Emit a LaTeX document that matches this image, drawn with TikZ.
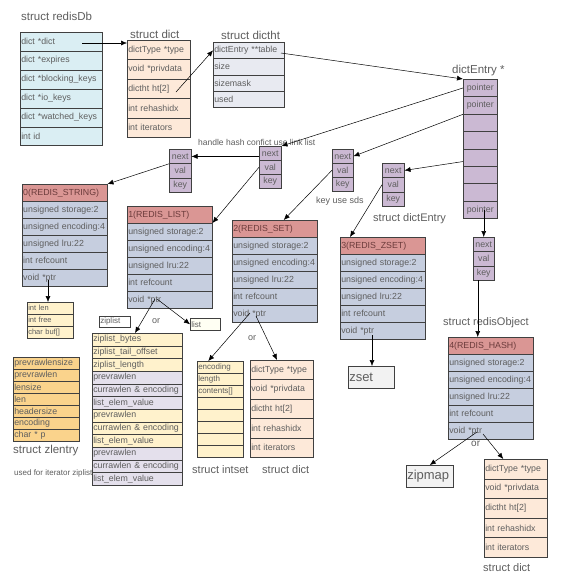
\documentclass[tikz,border=0pt]{standalone}
\usepackage{fontspec}
\setmainfont{Liberation Sans}
\usetikzlibrary{arrows.meta,calc}
\definecolor{txt}{HTML}{5E5E5E}
\definecolor{bord}{HTML}{404040}
\definecolor{dbc}{HTML}{DAEEF3}
\definecolor{dictc}{HTML}{FDE9D9}
\definecolor{htc}{HTML}{E8EAF1}
\definecolor{dec}{HTML}{CBB9D3}
\definecolor{hdr}{HTML}{DA9694}
\definecolor{hdrtxt}{HTML}{6B3B3B}
\definecolor{objc}{HTML}{C6CEDF}
\definecolor{yel}{HTML}{FFF2CC}
\definecolor{lav}{HTML}{E4E0EC}
\definecolor{zlec}{HTML}{FAD38C}
\definecolor{grayc}{HTML}{F2F2F2}
\definecolor{cream}{HTML}{FFFFF3}
\tikzset{
  cell/.style={draw=bord, line width=0.5pt, anchor=north west, inner xsep=1pt, inner ysep=0pt,
    text=txt, font=\fontsize{8.8}{9}\selectfont, align=left},
  ttl/.style={anchor=west, inner sep=0pt, text=txt, font=\fontsize{11.5}{12}\selectfont},
  note/.style={anchor=west, inner sep=0pt, text=txt, font=\fontsize{8.5}{9}\selectfont},
  arr/.style={draw=black, line width=0.5pt, -{Latex[length=6pt,width=5pt]}},
  plainbox/.style={draw=bord, line width=0.5pt, anchor=north west, inner xsep=1pt, inner ysep=0pt,
    text=txt, align=left}
}
\newcommand\stackcells[7]{%
  \pgfmathsetmacro\stw{#4-2}%
  \foreach \t [count=\i] in {#7}{%
    \node[cell,text width=\stw pt,minimum height=#5pt,#6] (#1\i) at ({#2},{#3+(\i-1)*#5}) {\t};
  }}
\newcommand\objbox[4]{%
  \node[cell,text width=83pt,minimum height=17pt,fill=hdr,text=hdrtxt] (#11) at (#2,#3) {#4};
  \foreach \t [count=\i from 2] in {unsigned storage:2,unsigned encoding:4,unsigned lru:22,int refcount,void *ptr}{%
    \node[cell,text width=83pt,minimum height=17pt,fill=objc] (#1\i) at ({#2},{#3+(\i-1)*17}) {\t};
  }}
\begin{document}
\begin{tikzpicture}[x=1pt,y=-1pt]
\fill[white] (0,0) rectangle (569,579);
\useasboundingbox (0,0) rectangle (569,579);

% titles and notes
\node[ttl] (tdb) at (21,16) {struct redisDb};
\node[ttl] (tdict) at (130,34) {struct dict};
\node[ttl] (tht) at (221,35) {struct dictht};
\node[ttl] (tde) at (452,71) {dictEntry *};
\node[note] (thash) at (198,142) {handle hash confict use link list};
\node[note,font=\fontsize{9}{10}\selectfont] (tsds) at (316,201) {key use sds};
\node[ttl,font=\fontsize{11}{12}\selectfont] (tent) at (373,219) {struct dictEntry};
\node[ttl,font=\fontsize{11}{12}\selectfont] (tobj) at (443,323) {struct redisObject};
\node[note,font=\fontsize{9}{10}\selectfont] (or1) at (152,321) {or};
\node[note,font=\fontsize{9}{10}\selectfont] (or2) at (248,338) {or};
\node[note,font=\fontsize{10}{11}\selectfont] (or3) at (471,444) {or};
\node[ttl] (tzle) at (13,451) {struct zlentry};
\node[note,font=\fontsize{8}{9}\selectfont] (titer) at (14,473) {used for iterator ziplist};
\node[ttl,font=\fontsize{11}{12}\selectfont] (tis) at (192,470) {struct intset};
\node[ttl,font=\fontsize{11}{12}\selectfont] (tdc2) at (262,470) {struct dict};
\node[ttl,font=\fontsize{11}{12}\selectfont] (tdc3) at (483,568) {struct dict};

% redisDb
\stackcells{db}{20}{32}{82}{18.9}{fill=dbc}{dict *dict,dict *expires,dict *blocking\_keys,dict *io\_keys,dict *watched\_keys,int id}
% struct dict
\stackcells{da}{127}{40}{63}{19.4}{fill=dictc}{dictType *type,void *privdata,dictht ht[2],int rehashidx,int iterators}
% dictht
\stackcells{ht}{213}{42}{71}{16.25}{fill=htc}{dictEntry **table,size,sizemask,used}
% dictEntry array
\stackcells{de}{463}{79}{34}{17.4}{fill=dec,align=center}{pointer,pointer,{},{},{},{},{},pointer}
% dictEntry small boxes
\stackcells{ea}{169}{149}{22}{14.3}{fill=dec,align=center}{next,val,key}
\stackcells{eb}{259}{146}{22}{14}{fill=dec,align=center}{next,val,key}
\stackcells{ec}{332}{149}{21}{14}{fill=dec,align=center}{next,val,key}
\stackcells{ed}{382}{163}{22}{14.3}{fill=dec,align=center}{next,val,key}
\stackcells{ee}{473}{237}{21}{14.3}{fill=dec,align=center}{next,val,key}

% redisObjects
\objbox{sa}{22}{184}{0(REDIS\_STRING)}
\objbox{la}{127}{206}{1(REDIS\_LIST)}
\objbox{sb}{232}{220}{2(REDIS\_SET)}
\objbox{za}{340}{237}{3(REDIS\_ZSET)}
\objbox{ha}{448}{337}{4(REDIS\_HASH)}

% sds
\stackcells{sds}{27}{302}{46}{12}{fill=yel,font=\fontsize{7.5}{8}\selectfont}{int len,int free,char buf[]}

% ziplist
\stackcells{zl}{92}{333}{90}{12.67}{fill=yel}{ziplist\_bytes,ziplist\_tail\_offset,ziplist\_length}
\stackcells{zm}{92}{371.01}{90}{12.67}{fill=lav}{prevrawlen,currawlen \& encoding,list\_elem\_value}
\stackcells{zn}{92}{409.02}{90}{12.67}{fill=yel}{prevrawlen,currawlen \& encoding,list\_elem\_value}
\stackcells{zo}{92}{447.03}{90}{12.67}{fill=lav}{prevrawlen,currawlen \& encoding,list\_elem\_value}
\draw[bord,line width=0.9pt] (zm1.north west) -- (zm1.north east);
\draw[bord,line width=0.9pt] (zn1.north west) -- (zn1.north east);
\draw[bord,line width=0.9pt] (zo1.north west) -- (zo1.north east);

% zlentry
\stackcells{zle}{13}{357}{66}{12}{fill=zlec}{prevrawlensize,prevrawlen,lensize,len,headersize,encoding,char * p}

% intset
\stackcells{is}{197}{361}{46}{12}{fill=yel,font=\fontsize{8}{9}\selectfont}{encoding,length,contents[],{},{},{},{},{}}
\draw[bord,line width=0.9pt] (is4.north west) -- (is4.north east);
% dict 2 and 3
\stackcells{dc}{250}{360}{63}{19.4}{fill=dictc}{dictType *type,void *privdata,dictht ht[2],int rehashidx,int iterators}
\stackcells{dd}{484}{459}{63}{19.6}{fill=dictc}{dictType *type,void *privdata,dictht ht[2],int rehashidx,int iterators}

% small boxes
\node[plainbox,fill=white,text width=29pt,minimum height=11pt,font=\fontsize{8}{9}\selectfont] (zlab) at (99,316) {ziplist};
\node[plainbox,fill=cream,text width=28pt,minimum height=12pt,font=\fontsize{8}{9}\selectfont] (lst) at (190,318) {list};
\node[plainbox,fill=grayc,text width=44pt,minimum height=22pt,font=\fontsize{13}{14}\selectfont] (zset) at (348,366) {zset};
\node[plainbox,fill=grayc,text width=45pt,minimum height=22pt,font=\fontsize{13}{14}\selectfont] (zipmap) at (406,465) {zipmap};

% coordinates for connector starts
\coordinate (c1) at (82,43);
\coordinate (c2) at (176,92);
\coordinate (c3) at (281,53);
\coordinate (c13) at ($(ee3.south)+(-6,0)$);
\coordinate (c14) at (48,280);
\coordinate (c15) at (155,299);
\coordinate (c15b) at (157,299);
\coordinate (c16) at (250,313);
\coordinate (c16b) at (256,316);
\coordinate (c17) at (372,335);
\coordinate (c18) at (477,432);
\coordinate (c18b) at (483,434);

% connectors
\draw[arr] (c1) -- (da1.west |- c1);
\draw[arr] (c2) -- (ht1.west);
\draw[arr] (c3) -- (de1.north west);
\draw[arr] (de1.west) -- (eb1.north east);
\draw[arr] (de2.south west) -- (ec1.east);
\draw[arr] ($(de5.west)+(0,4)$) -- (ed1.east);
\draw[arr] (ee1.north |- de8.center) -- (ee1.north);
\draw[arr] (eb1.west |- ea1.east) -- (ea1.east);
\draw[arr] (ea1.south west) -- (sa1.north east);
\draw[arr] (eb2.west) -- (la2.north east);
\draw[arr] (ec2.west) -- ($(sb1.north)+(9,0)$);
\draw[arr] (ed2.west) -- ($(za1.north west)+(10,0)$);
\draw[arr] (c13) -- (c13 |- ha1.north);
\draw[arr] (c14) -- (c14 |- sds1.north);
\draw[arr] (c15) -- ($(zl1.north west)+(43,0)$);
\draw[arr] (c15b) -- (lst.west);
\draw[arr] (c16) -- ($(is1.north)+(-12,0)$);
\draw[arr] (c16b) -- ($(dc1.north west)+(27,0)$);
\draw[arr] (c17) -- (c17 |- zset.north);
\draw[arr] (c18) -- (zipmap.north);
\draw[arr] (c18b) -- ($(dd1.north)+(-12.5,0)$);
\end{tikzpicture}
\end{document}
